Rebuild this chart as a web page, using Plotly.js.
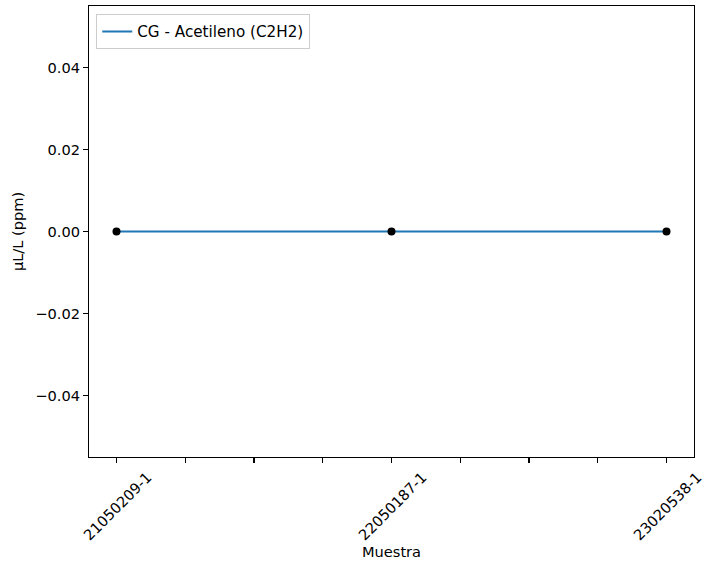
<!DOCTYPE html>
<html>
<head>
<meta charset="utf-8">
<script src="https://cdn.plot.ly/plotly-3.0.1.min.js"></script>
<style>html,body{margin:0;padding:0;background:#fff;}#chart{width:718px;height:564px;}</style>
</head>
<body>
<div id="chart"></div>
<script>
// Data
const samples = ['21050209-1', '22050187-1', '23020538-1'];
const values = [0, 0, 0];
const seriesName = 'CG - Acetileno (C2H2)';
const yTickVals = [-0.04, -0.02, 0, 0.02, 0.04];

const idx = samples.map((_, i) => i);
// minor ticks every quarter step, labelled only at samples
const xTickVals = [];
const xTickText = [];
for (let i = 0; i < samples.length; i++) {
  xTickVals.push(i); xTickText.push(samples[i]);
  if (i < samples.length - 1) {
    [0.25, 0.5, 0.75].forEach(f => { xTickVals.push(i + f); xTickText.push(''); });
  }
}

const font = {family: 'DejaVu Sans, sans-serif', size: 14.6, color: '#000'};
const legendFont = {family: 'DejaVu Sans, sans-serif', size: 15.2, color: '#000'};

const traces = [
  {x: idx, y: values, type: 'scatter', mode: 'lines', name: seriesName,
   line: {color: '#1f77b4', width: 1.8}},
  {x: idx, y: values, type: 'scatter', mode: 'markers', showlegend: false,
   marker: {color: '#000', size: 8}, hoverinfo: 'skip'}
];

const layout = {
  width: 718, height: 564,
  margin: {l: 89, r: 24, t: 6, b: 107},
  paper_bgcolor: '#fff', plot_bgcolor: '#fff',
  font: font,
  showlegend: true,
  legend: {x: 0.012, y: 0.982, xanchor: 'left', yanchor: 'top',
           bgcolor: 'rgba(255,255,255,0.8)', bordercolor: '#cccccc', borderwidth: 1,
           font: legendFont},
  xaxis: {
    range: [-0.1, samples.length - 1 + 0.1], type: 'linear',
    tickmode: 'array', tickvals: xTickVals, ticktext: xTickText,
    tickangle: -45, ticklabelshift: 31,
    ticks: 'outside', ticklen: 5, tickwidth: 1.1, tickcolor: '#000',
    showline: true, linecolor: '#000', linewidth: 1.1, mirror: true,
    showgrid: false, zeroline: false, automargin: false,
    tickfont: font,
    title: {text: 'Muestra', font: font, standoff: 3}
  },
  yaxis: {
    range: [-0.055, 0.055],
    tickmode: 'array', tickvals: yTickVals, tickformat: '.2f',
    ticks: 'outside', ticklen: 5, tickwidth: 1.1, tickcolor: '#000',
    showline: true, linecolor: '#000', linewidth: 1.1, mirror: true,
    showgrid: false, zeroline: false, automargin: false,
    tickfont: font,
    title: {text: 'µL/L (ppm)', font: font, standoff: 8}
  }
};

Plotly.newPlot('chart', traces, layout, {displayModeBar: false, staticPlot: true});
</script>
</body>
</html>
